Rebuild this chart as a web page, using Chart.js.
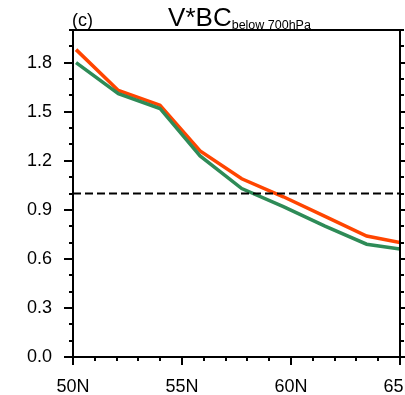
<!DOCTYPE html>
<html>
<head>
<meta charset="utf-8">
<script src="https://cdn.jsdelivr.net/npm/chart.js@4/dist/chart.umd.min.js"></script>
<style>
  html, body { margin: 0; padding: 0; background: #fff; }
  #wrap { width: 405px; height: 395px; }
</style>
</head>
<body>
<div id="wrap"><canvas id="c" width="405" height="395" style="width:405px;height:395px"></canvas></div>
<script>
// Latitudes (degrees N) of the data points
const lats = [50.14, 52.08, 53.99, 55.83, 57.74, 59.65, 61.56, 63.47, 65.0];
// Orange series
const seriesOrange = [1.88, 1.63, 1.54, 1.26, 1.09, 0.98, 0.86, 0.74, 0.70];
// Green series
const seriesGreen = [1.80, 1.61, 1.52, 1.23, 1.03, 0.92, 0.80, 0.69, 0.66];
// Reference line value
const refValue = 1.0;
const xRange = [50, 65];
const yRange = [0, 2.0];
const xTickLabels = ['50N', '55N', '60N', '65N'];
const titleMain = 'V*BC';
const titleSub = 'below 700hPa';
const panelLabel = '(c)';

const FONT = '"Liberation Sans", Arial, Helvetica, sans-serif';

const toPts = (ys) => ys.map((v, i) => ({ x: lats[i], y: v }));

const axesPlugin = {
  id: 'nclAxes',
  afterDraw(chart) {
    const ctx = chart.ctx;
    const { left, right, top, bottom } = chart.chartArea;
    const xs = chart.scales.x, ys = chart.scales.y;
    ctx.save();
    ctx.strokeStyle = '#000';
    ctx.lineWidth = 2;
    ctx.lineCap = 'butt';
    ctx.strokeRect(left, top, right - left, bottom - top);
    ctx.beginPath();
    for (let i = 0; i <= 20; i++) {
      const v = i / 10;
      const py = Math.round(ys.getPixelForValue(v));
      const major = (i % 3 === 0) && i <= 18;
      const len = major ? 9 : 4;
      ctx.moveTo(left, py); ctx.lineTo(left - len, py);
      ctx.moveTo(right, py); ctx.lineTo(right + len, py);
    }
    for (let lat = xRange[0]; lat <= xRange[1]; lat++) {
      const px = Math.round(xs.getPixelForValue(lat));
      const major = lat % 5 === 0;
      const len = major ? 8 : 4;
      ctx.moveTo(px, bottom); ctx.lineTo(px, bottom + len);
    }
    ctx.stroke();

    // panel label
    ctx.fillStyle = '#000';
    ctx.textBaseline = 'alphabetic';
    ctx.textAlign = 'left';
    ctx.font = '18px ' + FONT;
    ctx.fillText(panelLabel, left - 1, 26);

    // title with subscript
    const mainFont = '26px ' + FONT;
    const subFont = '12.5px ' + FONT;
    ctx.font = mainFont;
    const wMain = ctx.measureText(titleMain).width;
    ctx.font = subFont;
    const wSub = ctx.measureText(titleSub).width;
    const cx = (left + right) / 2 + 3;
    const x0 = cx - (wMain + wSub) / 2;
    ctx.font = mainFont;
    ctx.fillText(titleMain, x0, 26);
    ctx.font = subFont;
    ctx.fillText(titleSub, x0 + wMain, 29);
    ctx.restore();
  }
};

new Chart(document.getElementById('c'), {
  type: 'line',
  data: {
    datasets: [
      {
        label: 'ref',
        data: [{ x: xRange[0], y: refValue }, { x: xRange[1], y: refValue }],
        borderColor: '#000',
        borderWidth: 2,
        borderDash: [8, 4],
        pointRadius: 0,
        fill: false
      },
      {
        label: 'green',
        data: toPts(seriesGreen),
        borderColor: '#2E8B57',
        borderWidth: 3.5,
        pointRadius: 0,
        tension: 0,
        fill: false
      },
      {
        label: 'orange',
        data: toPts(seriesOrange),
        borderColor: '#FF4500',
        borderWidth: 3.5,
        pointRadius: 0,
        tension: 0,
        fill: false
      }
    ]
  },
  options: {
    responsive: false,
    animation: false,
    devicePixelRatio: 1,
    layout: { padding: { top: 30, right: 5, left: 0, bottom: 0 } },
    plugins: { legend: { display: false }, tooltip: { enabled: false }, title: { display: false } },
    scales: {
      x: {
        type: 'linear',
        min: xRange[0], max: xRange[1],
        grid: { display: false, drawTicks: false },
        border: { display: false },
        ticks: {
          stepSize: 5,
          autoSkip: false,
          maxRotation: 0,
          padding: 19,
          color: '#000',
          font: { family: FONT, size: 18 },
          callback: (v) => { const i = Math.round((v - xRange[0]) / 5); return xTickLabels[i]; }
        },
        afterFit(s) { s.height = 38; s.paddingLeft = 0; s.paddingRight = 0; }
      },
      y: {
        type: 'linear',
        min: yRange[0], max: yRange[1],
        grid: { display: false, drawTicks: false },
        border: { display: false },
        ticks: {
          stepSize: 0.3,
          includeBounds: false,
          padding: 21,
          color: '#000',
          font: { family: FONT, size: 18 },
          callback: (v) => Number(v).toFixed(1)
        },
        afterFit(s) { s.width = 73; s.paddingTop = 0; s.paddingBottom = 0; }
      }
    }
  },
  plugins: [axesPlugin]
});
</script>
</body>
</html>
